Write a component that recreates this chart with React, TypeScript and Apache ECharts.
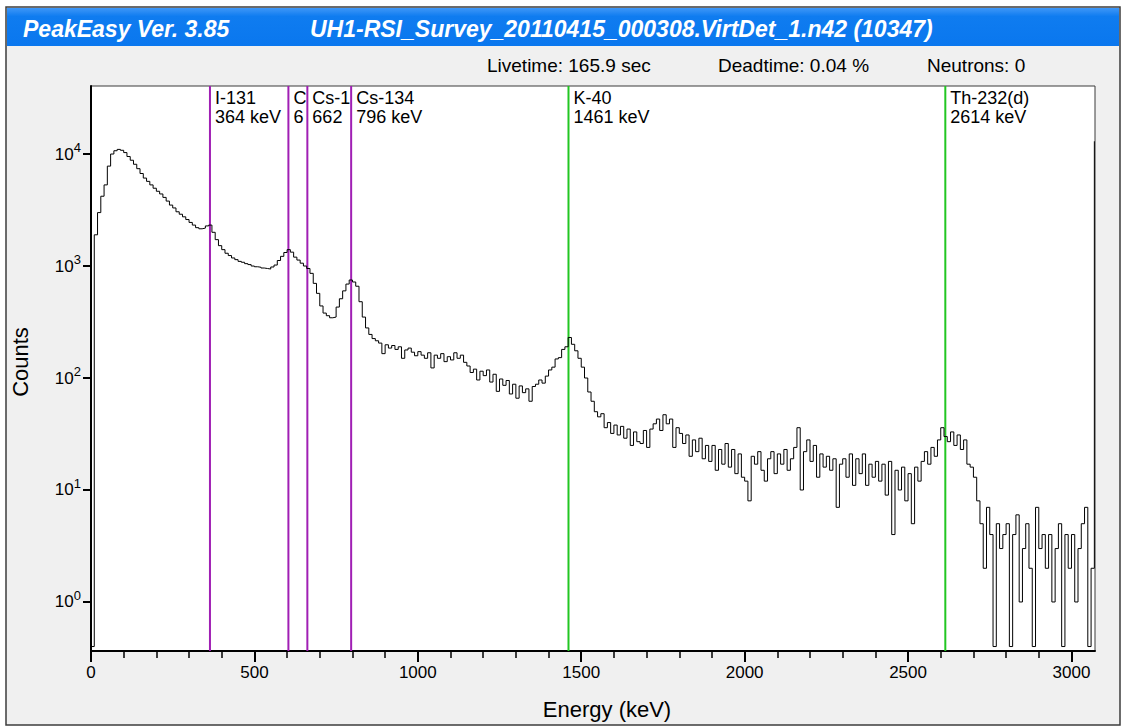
import React, { useEffect, useRef } from "react";
import * as echarts from "echarts";

const FONT = '"Liberation Sans", Arial, Helvetica, sans-serif';

const appTitle = "PeakEasy Ver. 3.85";
const fileTitle = "UH1-RSI_Survey_20110415_000308.VirtDet_1.n42 (10347)";
const infoTexts = ["Livetime: 165.9 sec", "Deadtime: 0.04 %", "Neutrons: 0"];
const xAxisName = "Energy (keV)";
const yAxisName = "Counts";

// spectrum: counts per 10 keV bin starting at 0 keV
const binWidthKeV = 10;
const counts = [
  0, 1900, 3000, 4200, 5300, 7800, 10000, 10700, 11000, 10800,
  10300, 9500, 8800, 8100, 7400, 6700, 6100, 5700, 5300, 4950,
  4650, 4400, 4100, 3800, 3500, 3300, 3050, 2900, 2750, 2600,
  2450, 2320, 2200, 2150, 2180, 2280, 2320, 2000, 1720, 1520,
  1400, 1300, 1240, 1180, 1140, 1100, 1080, 1050, 1030, 1000,
  985, 975, 960, 950, 940, 980, 1020, 1120, 1220, 1320,
  1400, 1330, 1200, 1130, 1060, 1000, 950, 860, 700, 570,
  440, 380, 360, 345, 350, 430, 510, 600, 690, 750,
  720, 660, 480, 350, 280, 245, 225, 215, 205, 165,
  198, 185, 195, 180, 190, 150, 178, 185, 170, 158,
  172, 160, 150, 168, 123, 160, 150, 165, 140, 155,
  145, 168, 150, 160, 138, 128, 112, 120, 96, 115,
  105, 118, 92, 108, 76, 98, 86, 95, 72, 88,
  66, 85, 74, 80, 62, 84, 88, 96, 90, 104,
  118, 125, 148, 152, 180, 190, 230, 200, 175, 150,
  125, 100, 75, 62, 50, 45, 48, 36, 40, 32,
  38, 31, 37, 29, 35, 25, 33, 27, 26, 34,
  24, 35, 39, 43, 34, 47, 39, 43, 24, 36,
  32, 26, 31, 20, 28, 22, 29, 19, 25, 18,
  25, 15, 23, 17, 26, 16, 23, 14, 21, 13,
  12, 8, 20, 17, 22, 15, 12, 19, 22, 14,
  21, 17, 23, 15, 19, 24, 36, 10, 22, 28,
  18, 25, 13, 21, 16, 20, 15, 19, 7, 17,
  19, 13, 21, 11, 19, 14, 21, 11, 17, 13,
  18, 12, 17, 9, 18, 4, 15, 10, 16, 8,
  14, 5, 16, 12, 18, 22, 17, 24, 20, 28,
  36, 30, 27, 33, 25, 31, 23, 28, 17, 16,
  13, 8, 5, 2, 7, 4, 0, 5, 3, 4,
  5, 0, 4, 6, 1, 3, 5, 2, 0, 7,
  3, 4, 2, 4, 1, 3, 5, 0, 4, 2,
  4, 1, 3, 5, 7, 0, 2, 13000,
];

const markerNames = ["I-131", "Cs-134", "Cs-137", "Cs-134", "K-40", "Th-232(d)"];
const markerEnergies = [364, 604, 662, 796, 1461, 2614];
const markerColors = ["#a01fb4", "#a01fb4", "#a01fb4", "#a01fb4", "#22c622", "#22c622"];

const xMajorTicks = [0, 500, 1000, 1500, 2000, 2500, 3000];
const xMinorTicks = [
  0, 100, 200, 300, 400, 500, 600, 700, 800, 900, 1000, 1100, 1200, 1300, 1400, 1500,
  1600, 1700, 1800, 1900, 2000, 2100, 2200, 2300, 2400, 2500, 2600, 2700, 2800, 2900, 3000,
];
const yTicks = [1, 10, 100, 1000, 10000];

const xMin = 0;
const xMax = 3072;
const yMin = 0.365;
const yMax = 40500;
const zeroFloor = 0.4; // empty bins drawn at the bottom of the log axis

export default function App() {
  const ref = useRef<HTMLDivElement>(null);

  useEffect(() => {
    if (!ref.current) return;
    const chart = echarts.init(ref.current, null, { renderer: "svg" });
    const spectrum = counts.map((c, i) => [i * binWidthKeV, c > 0 ? c : zeroFloor]);

    const option: any = {
      animation: false,
      grid: {
        left: 91,
        right: 29,
        top: 86,
        bottom: 77,
        show: true,
        backgroundColor: "#ffffff",
        borderColor: "#3a3a3a",
        borderWidth: 1,
      },
      xAxis: [
        {
          type: "value",
          min: xMin,
          max: xMax,
          interval: 500,
          position: "bottom",
          axisLine: { show: true, onZero: false, lineStyle: { color: "#000", width: 2 } },
          axisTick: { show: true, customValues: xMajorTicks, length: 11, lineStyle: { color: "#000", width: 2 } },
          minorTick: { show: false },
          splitLine: { show: false },
          axisLabel: {
            customValues: xMajorTicks,
            margin: 13,
            color: "#000",
            fontSize: 17,
            fontFamily: FONT,
            formatter: (v: number) => String(v),
          },
        },
        {
          type: "value",
          min: xMin,
          max: xMax,
          interval: 100,
          position: "bottom",
          axisLine: { show: false },
          axisTick: { show: true, customValues: xMinorTicks, length: 7, lineStyle: { color: "#000", width: 1.5 } },
          axisLabel: { show: false },
          splitLine: { show: false },
        },
      ],
      yAxis: {
        type: "log",
        logBase: 10,
        min: yMin,
        max: yMax,
        axisLine: { show: true, onZero: false, lineStyle: { color: "#000", width: 2 } },
        axisTick: { show: true, customValues: yTicks, length: 8, lineStyle: { color: "#000", width: 2 } },
        minorTick: { show: false },
        splitLine: { show: false },
        axisLabel: {
          customValues: yTicks,
          margin: 10,
          formatter: (v: number) => `{b|10}{s|${Math.round(Math.log10(v))}}`,
          rich: {
            b: { fontSize: 17, fontFamily: FONT, color: "#000" },
            s: { fontSize: 13, fontFamily: FONT, color: "#000", padding: [0, 0, 13, 0] },
          },
        },
      },
      graphic: [
        {
          type: "rect",
          z: -100,
          shape: { x: 6, y: 7, width: 1114, height: 718 },
          style: { fill: "#f0f0f0", stroke: "#3c3c3c", lineWidth: 1.5 },
        },
        {
          type: "rect",
          z: -99,
          shape: { x: 7, y: 8, width: 1112, height: 38 },
          style: {
            fill: new echarts.graphic.LinearGradient(0, 0, 0, 1, [
              { offset: 0, color: "#3f97f7" },
              { offset: 0.22, color: "#0f7cf0" },
              { offset: 1, color: "#0a77ee" },
            ]),
          },
        },
        {
          type: "text",
          x: 23,
          y: 29,
          style: {
            text: appTitle,
            fill: "#ffffff",
            font: `italic bold 23px ${FONT}`,
            textAlign: "left",
            textVerticalAlign: "middle",
          },
        },
        {
          type: "text",
          x: 310,
          y: 29,
          style: {
            text: fileTitle,
            fill: "#ffffff",
            font: `italic bold 23px ${FONT}`,
            textAlign: "left",
            textVerticalAlign: "middle",
          },
        },
        ...infoTexts.map((t, i) => ({
          type: "text",
          x: [487, 718, 927][i],
          y: 65,
          style: {
            text: t,
            fill: "#000",
            font: `19px ${FONT}`,
            textAlign: "left",
            textVerticalAlign: "middle",
          },
        })),
        {
          type: "text",
          x: 607,
          y: 709,
          style: {
            text: xAxisName,
            fill: "#000",
            font: `22px ${FONT}`,
            textAlign: "center",
            textVerticalAlign: "middle",
          },
        },
        {
          type: "text",
          x: 20,
          y: 362,
          rotation: Math.PI / 2,
          style: {
            text: yAxisName,
            fill: "#000",
            font: `22px ${FONT}`,
            textAlign: "center",
            textVerticalAlign: "middle",
          },
        },
      ],
      series: [
        {
          type: "line",
          xAxisIndex: 0,
          data: spectrum,
          step: "end",
          showSymbol: false,
          symbol: "none",
          silent: true,
          lineStyle: { color: "#000", width: 1 },
        },
        {
          type: "custom",
          xAxisIndex: 0,
          silent: true,
          data: markerEnergies.map((e) => [e]),
          encode: { x: 0 },
          renderItem: (params: any, api: any) => {
            const i = params.dataIndex;
            const e = api.value(0);
            const cs = params.coordSys;
            const x = api.coord([e, yMin])[0];
            const next = markerEnergies[i + 1];
            const xr = next !== undefined ? api.coord([next, yMin])[0] : cs.x + cs.width;
            return {
              type: "group",
              children: [
                {
                  type: "line",
                  shape: { x1: x, y1: cs.y, x2: x, y2: cs.y + cs.height },
                  style: { stroke: markerColors[i], lineWidth: 2 },
                },
                {
                  type: "text",
                  x: x + 5,
                  y: cs.y + 2,
                  style: {
                    text: `${markerNames[i]}\n${e} keV`,
                    fill: "#000",
                    fontSize: 18,
                    fontFamily: FONT,
                    lineHeight: 19,
                    width: Math.max(1, xr - x - 3),
                    overflow: "truncate",
                    ellipsis: "",
                    textAlign: "left",
                    textVerticalAlign: "top",
                  },
                },
              ],
            };
          },
        },
      ],
    };

    chart.setOption(option);
    return () => chart.dispose();
  }, []);

  return (
    <div
      ref={ref}
      style={{ position: "absolute", left: 0, top: 0, width: 1124, height: 728, background: "#ffffff" }}
    />
  );
}
